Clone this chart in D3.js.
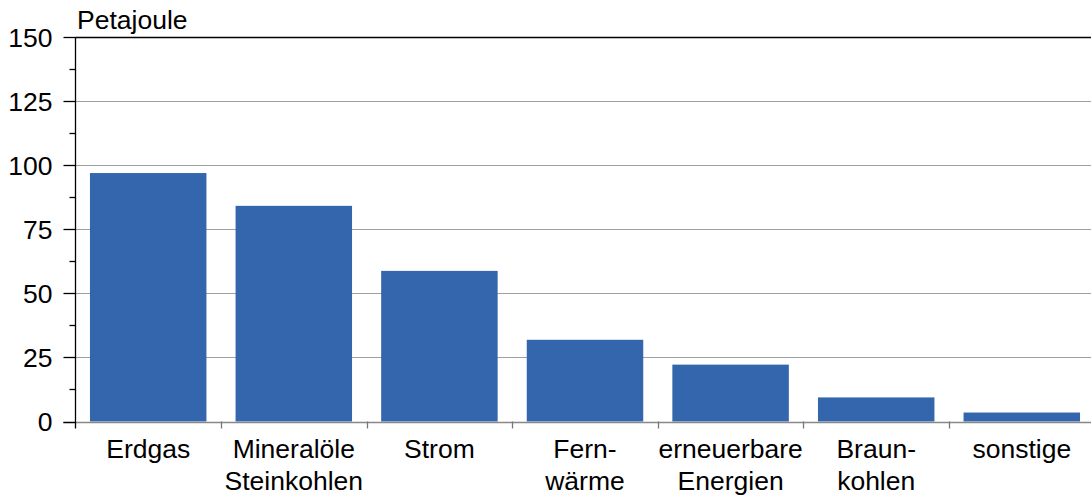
<!DOCTYPE html>
<html><head><meta charset="utf-8">
<script src="https://cdn.jsdelivr.net/npm/d3@7"></script>
<style>body{margin:0;background:#fff}svg{display:block;font-family:Arial,"Liberation Sans",sans-serif}</style>
</head><body><svg width="1091" height="500"></svg>
<script>
const categories = [["Erdgas"],["Mineralöle","Steinkohlen"],["Strom"],["Fern-","wärme"],["erneuerbare","Energien"],["Braun-","kohlen"],["sonstige"]];
const values = [97, 84.2, 58.8, 31.9, 22.2, 9.4, 3.5];
const yTicks = [0, 25, 50, 75, 100, 125, 150];
const minorTicks = [12.5, 37.5, 62.5, 87.5, 112.5, 137.5];
const unitLabel = "Petajoule";

const svg = d3.select("svg");
const FS = 26.5;
const x0 = 75.4, x1 = 1094.6, yTop = 37.3, yBot = 421.5;
const x = d3.scaleBand().domain(d3.range(categories.length)).range([x0, x1]).paddingInner(0.2).paddingOuter(0.1);
const y = d3.scaleLinear().domain([0,150]).range([yBot, yTop]);

// gridlines
svg.append("g").selectAll("line").data(yTicks.filter(d=>d>0&&d<150)).join("line")
  .attr("x1", x0).attr("x2", 1091).attr("y1", d=>Math.round(y(d))+0.5).attr("y2", d=>Math.round(y(d))+0.5)
  .attr("stroke", "#a0a0a0").attr("stroke-width", 1);
// top line
svg.append("line").attr("x1", x0).attr("x2", 1091).attr("y1", Math.round(y(150))+0.5).attr("y2", Math.round(y(150))+0.5)
  .attr("stroke", "#000").attr("stroke-width", 1.3);

// bars
svg.append("g").selectAll("rect").data(values).join("rect")
  .attr("x", (d,i)=>x(i)).attr("width", x.bandwidth())
  .attr("y", d=>y(d)).attr("height", d=>yBot - y(d))
  .attr("fill", "#3366ad");

// baseline
svg.append("line").attr("x1", 63).attr("x2", 1091).attr("y1", Math.round(yBot)+0.5).attr("y2", Math.round(yBot)+0.5)
  .attr("stroke", "#888").attr("stroke-width", 1.3);
// category ticks
const bounds = d3.range(1, categories.length).map(i => x0 + i*x.step());
svg.append("g").selectAll("line").data(bounds).join("line")
  .attr("x1", d=>Math.round(d)+0.5).attr("x2", d=>Math.round(d)+0.5)
  .attr("y1", yBot).attr("y2", yBot+7).attr("stroke", "#777").attr("stroke-width", 1.3);

// y axis
const ax = svg.append("g").attr("transform", `translate(${Math.round(x0)+0.5},0)`);
ax.append("line").attr("y1", yTop).attr("y2", yBot+7).attr("stroke", "#000").attr("stroke-width", 1.3);
ax.selectAll(".maj").data(yTicks).join("line").attr("class","maj")
  .attr("x1", -12).attr("x2", 0).attr("y1", d=>Math.round(y(d))+0.5).attr("y2", d=>Math.round(y(d))+0.5)
  .attr("stroke", "#000").attr("stroke-width", 1.3);
ax.selectAll(".min").data(minorTicks).join("line").attr("class","min")
  .attr("x1", -6).attr("x2", 0).attr("y1", d=>Math.round(y(d))+0.5).attr("y2", d=>Math.round(y(d))+0.5)
  .attr("stroke", "#000").attr("stroke-width", 1.3);
ax.selectAll("text").data(yTicks).join("text")
  .attr("x", -23).attr("y", d=>y(d)).attr("dy", "0.35em").attr("text-anchor", "end")
  .attr("font-size", FS).attr("fill", "#000").text(d=>d);

svg.append("text").attr("x", 77).attr("y", 29).attr("font-size", FS).attr("fill", "#000").text(unitLabel);

// category labels
const lab = svg.append("g").selectAll("text").data(categories).join("text")
  .attr("x", (d,i)=>x(i)+x.bandwidth()/2).attr("y", 457.5).attr("text-anchor", "middle")
  .attr("font-size", FS).attr("fill", "#000");
lab.selectAll("tspan").data(d=>d).join("tspan")
  .attr("x", function(){return this.parentNode.getAttribute("x");})
  .attr("dy", (d,i)=>i===0?0:32.5).text(d=>d);
</script></body></html>
